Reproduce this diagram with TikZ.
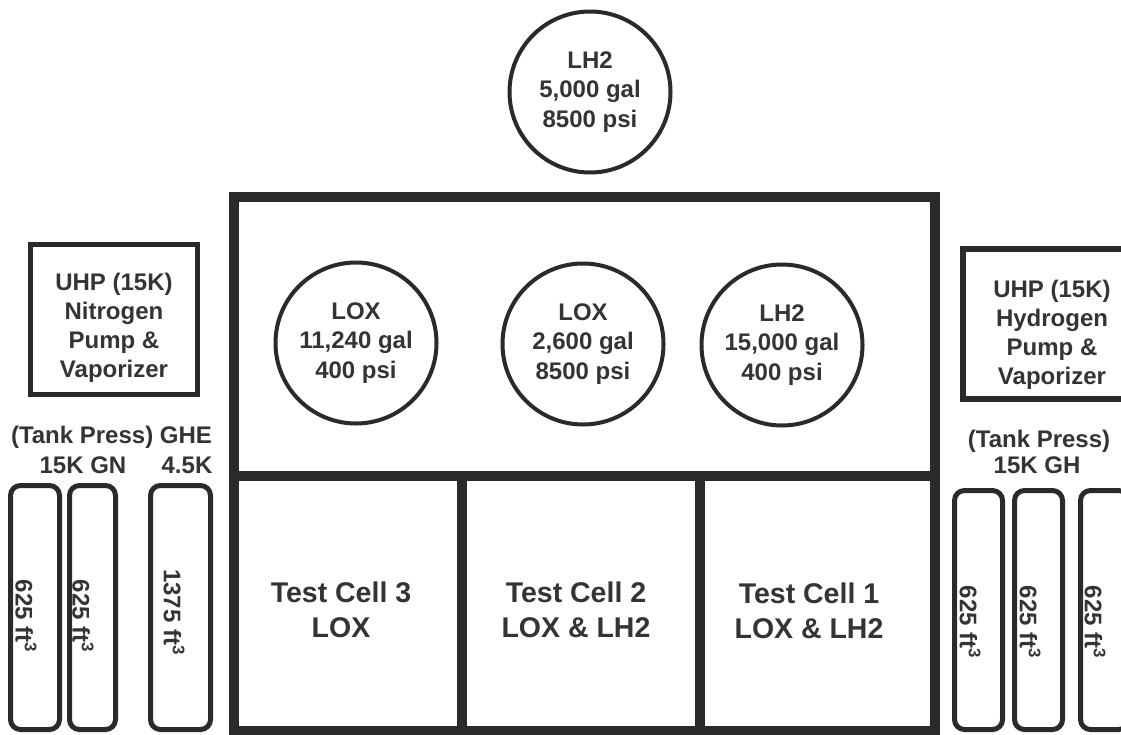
\documentclass[tikz,border=0pt]{standalone}
\usepackage{fontspec}
\setmainfont{Liberation Sans}
\usepackage{tikz}

\begin{document}
\begin{tikzpicture}[
  x=1pt, y=-1pt,
  wall/.style={
    draw=wallcol,
    line width=10pt
  },
  tank/.style={
    circle,
    draw=wallcol,
    line width=4pt,
    minimum size=161pt,
    inner sep=0pt,
    align=center,
    text=textcol,
    font=\bfseries\fontsize{24}{29.5}\selectfont
  },
  unitbox/.style={
    draw=wallcol,
    line width=5pt,
    minimum height=150pt,
    inner sep=0pt
  },
  boxtext/.style={
    align=center,
    text=textcol,
    font=\bfseries\fontsize{24}{29}\selectfont
  },
  bottle/.style={
    draw=wallcol,
    line width=5pt,
    rounded corners=10pt,
    inner sep=0pt
  },
  vol/.style={
    rotate=-90,
    text=textcol,
    font=\bfseries\fontsize{24}{29}\selectfont
  },
  tag/.style={
    text=textcol,
    font=\bfseries\fontsize{24}{29}\selectfont
  },
  cell/.style={
    align=center,
    text=textcol,
    font=\bfseries\fontsize{28.5}{35}\selectfont
  }
]

\definecolor{wallcol}{RGB}{42,42,44}
\definecolor{textcol}{RGB}{52,52,54}

\path[use as bounding box, clip] (0,0) rectangle (1121,734);
\fill[white] (0,0) rectangle (1121,734);

% building and test cells
\draw[wall] (234,197) rectangle (935,731);
\draw[wall] (234,476) -- (935,476);
\draw[wall] (462,476) -- (462,731);
\draw[wall] (700,476) -- (700,731);

\node[cell] (tc3) at (341,610) {Test Cell 3\\LOX};
\node[cell] (tc2) at (576,610) {Test Cell 2\\LOX \& LH2};
\node[cell] (tc1) at (809,611) {Test Cell 1\\LOX \& LH2};

% run tanks
\node[tank] (lh2top) at (590,92) {LH2\\5,000 gal\\8500 psi};
\node[tank] (lox1) at (356,343) {LOX\\11,240 gal\\400 psi};
\node[tank] (lox2) at (583,344) {LOX\\2,600 gal\\8500 psi};
\node[tank] (lh2) at (782,345) {LH2\\15,000 gal\\400 psi};

% pump units
\node[unitbox, minimum width=167pt] (n2pump) at (114,319.5) {};
\node[boxtext] (n2pumptxt) at (114,328)
  {UHP (15K)\\Nitrogen\\Pump \&\\Vaporizer};
\node[unitbox, line width=6pt, minimum width=178pt] (h2pump) at (1052,324) {};
\node[boxtext] (h2pumptxt) at (1052,335)
  {UHP (15K)\\Hydrogen\\Pump \&\\Vaporizer};

% gas bottles, left
\node[tag] (gnhead) at (111.5,437) {(Tank Press) GHE};
\node[tag] (gnsize) at (83,465) {15K GN};
\node[tag] (hesize) at (187,465) {4.5K};

\node[bottle, minimum width=49pt, minimum height=244pt] (gn1) at (35,607.5) {};
\node[bottle, minimum width=46pt, minimum height=244pt] (gn2) at (92.5,607.5) {};
\node[bottle, minimum width=60pt, minimum height=244pt] (ghe) at (180.5,607.5) {};
\node[vol] (gn1txt) at (26,616) {625 ft\textsuperscript{3}};
\node[vol] (gn2txt) at (83,616) {625 ft\textsuperscript{3}};
\node[vol] (ghetxt) at (174,612) {1375 ft\textsuperscript{3}};

% gas bottles, right
\node[tag] (ghhead) at (1039,441) {(Tank Press)};
\node[tag] (ghsize) at (1037,465) {15K GH};

\node[bottle, minimum width=48pt, minimum height=239pt] (gh1) at (978.5,610) {};
\node[bottle, minimum width=48pt, minimum height=239pt] (gh2) at (1038.5,610) {};
\node[bottle, minimum width=48pt, minimum height=239pt] (gh3) at (1104.5,610) {};
\node[vol] (gh1txt) at (970,622) {625 ft\textsuperscript{3}};
\node[vol] (gh2txt) at (1030,622) {625 ft\textsuperscript{3}};
\node[vol] (gh3txt) at (1095,622) {625 ft\textsuperscript{3}};

\end{tikzpicture}
\end{document}
